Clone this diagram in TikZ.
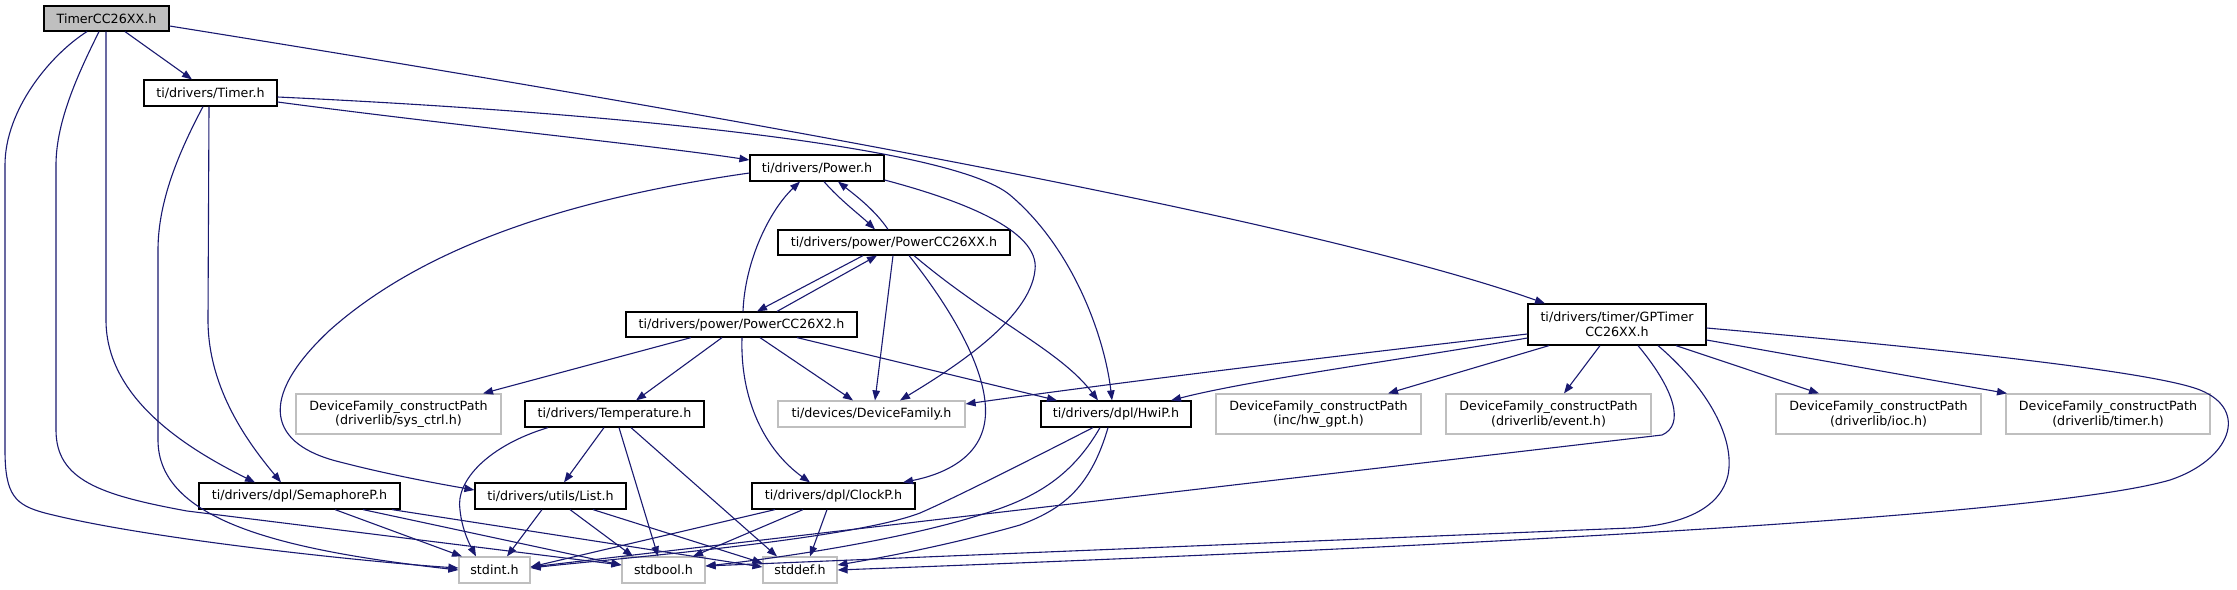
\documentclass[tikz,border=0pt]{standalone}
\usepackage{fontspec}
\setmainfont{DejaVu Sans}
\usetikzlibrary{arrows.meta}
\definecolor{edgecol}{HTML}{191970}
\definecolor{extgray}{HTML}{BFBFBF}
\begin{document}
\begin{tikzpicture}[x=1pt,y=-1pt,
  box/.style={draw=black, line width=1.2pt, fill=white, inner sep=0pt, align=center, font=\fontsize{12.7}{14.5}\selectfont},
  rootbox/.style={box, fill=extgray},
  extbox/.style={box, draw=extgray},
  edge/.style={draw=edgecol, line width=1.1pt, -{Triangle[length=10pt,width=7.5pt]}}]
\useasboundingbox (0,0) rectangle (2237,589);
% nodes
\node[rootbox, minimum width=125pt, minimum height=25pt] (root) at (106.5,18.5) {TimerCC26XX.h};
\node[box, minimum width=133pt, minimum height=26pt] (timer) at (210.5,93) {ti/drivers/Timer.h};
\node[box, minimum width=201pt, minimum height=26pt] (sema) at (299.5,496) {ti/drivers/dpl/SemaphoreP.h};
\node[extbox, minimum width=71pt, minimum height=26pt] (stdint) at (494.5,570) {stdint.h};
\node[extbox, minimum width=83pt, minimum height=26pt] (stdbool) at (663.5,570) {stdbool.h};
\node[extbox, minimum width=74pt, minimum height=26pt] (stddef) at (800,570) {stddef.h};
\node[box, minimum width=151pt, minimum height=26pt] (list) at (550.5,496) {ti/drivers/utils/List.h};
\node[box, minimum width=163pt, minimum height=26pt] (clockp) at (833.5,496) {ti/drivers/dpl/ClockP.h};
\node[extbox, minimum width=205pt, minimum height=40pt] (sysctrl) at (398.5,414) {DeviceFamily\_constructPath\\(driverlib/sys\_ctrl.h)};
\node[box, minimum width=179pt, minimum height=26pt] (temp) at (614.5,414) {ti/drivers/Temperature.h};
\node[box, minimum width=231pt, minimum height=25pt] (pcc26x2) at (741.5,324.5) {ti/drivers/power/PowerCC26X2.h};
\node[box, minimum width=134pt, minimum height=26pt] (power) at (817,168) {ti/drivers/Power.h};
\node[box, minimum width=232pt, minimum height=25pt] (pcc26xx) at (894,242.5) {ti/drivers/power/PowerCC26XX.h};
\node[extbox, minimum width=187pt, minimum height=26pt] (devfam) at (871.5,414) {ti/devices/DeviceFamily.h};
\node[box, minimum width=150pt, minimum height=26pt] (hwip) at (1116,414) {ti/drivers/dpl/HwiP.h};
\node[extbox, minimum width=205pt, minimum height=40pt] (hwgpt) at (1318.5,414) {DeviceFamily\_constructPath\\(inc/hw\_gpt.h)};
\node[extbox, minimum width=205pt, minimum height=40pt] (event) at (1548.5,414) {DeviceFamily\_constructPath\\(driverlib/event.h)};
\node[extbox, minimum width=205pt, minimum height=40pt] (ioc) at (1878.5,414) {DeviceFamily\_constructPath\\(driverlib/ioc.h)};
\node[extbox, minimum width=204pt, minimum height=40pt] (tmr) at (2108,414) {DeviceFamily\_constructPath\\(driverlib/timer.h)};
\node[box, minimum width=178pt, minimum height=41pt] (gpt) at (1617,324.5) {ti/drivers/timer/GPTimer\\CC26XX.h};
% edges
\draw[edge] (root.south -| 87,0) .. controls (50,55) and (5,110) .. (5,165) -- (5,450) .. controls (5,495) and (15,505) .. (45,513) .. controls (150,540) and (380,563) .. (stdint.west |- 0,568);
\draw[edge] (root.south -| 99,0) .. controls (80,70) and (56,120) .. (56,165) -- (56,430) .. controls (56,480) and (100,495) .. (187,511) -- (stdbool.west |- 0,565);
\draw[edge] (root.south -| 106,0) -- (106,320) .. controls (106,400) and (190,450) .. (sema.north -| 255,0);
\draw[edge] (root.south -| 125,0) -- (timer.north -| 192,0);
\draw[edge] (root.east |- 0,26) .. controls (600,95) and (1280,210) .. (gpt.north -| 1545,0);
\draw[edge] (timer.east |- 0,102) .. controls (450,125) and (650,145) .. (power.west |- 0,160);
\draw[edge] (timer.east |- 0,97) .. controls (600,112) and (950,145) .. (1010,195) .. controls (1075,250) and (1105,340) .. (hwip.north -| 1112,0);
\draw[edge] (timer.south -| 209,0) -- (208,320) .. controls (208,390) and (250,445) .. (sema.north -| 281,0);
\draw[edge] (timer.south -| 203,0) .. controls (180,150) and (158,200) .. (158,250) -- (158,440) .. controls (158,520) and (280,550) .. (stdint.west |- 0,570);
\draw[edge] (power.west |- 0,173) .. controls (560,200) and (420,250) .. (330,330) .. controls (255,400) and (270,445) .. (340,462) .. controls (390,475) and (440,484) .. (list.west |- 0,490);
\draw[edge] (power.east |- 0,180) .. controls (960,200) and (1040,230) .. (1035,270) .. controls (1030,320) and (950,370) .. (devfam.north -| 900,0);
\draw[edge] (power.south -| 824,0) .. controls (840,200) and (860,215) .. (pcc26xx.north -| 875,0);
\draw[edge] (pcc26xx.north -| 888,0) .. controls (875,210) and (855,195) .. (power.south -| 838,0);
\draw[edge] (pcc26xx.south -| 863,0) -- (pcc26x2.north -| 757,0);
\draw[edge] (pcc26x2.north -| 777,0) -- (pcc26xx.south -| 877,0);
\draw[edge] (pcc26xx.south -| 893,0) -- (devfam.north -| 875,0);
\draw[edge] (pcc26xx.south -| 909,0) .. controls (960,320) and (990,380) .. (985,420) .. controls (980,460) and (940,475) .. (clockp.north -| 903,0);
\draw[edge] (pcc26xx.south -| 914,0) .. controls (990,320) and (1060,350) .. (hwip.north -| 1098,0);
\draw[edge] (pcc26x2.north -| 743,0) .. controls (745,260) and (770,210) .. (power.south -| 800,0);
\draw[edge] (pcc26x2.south -| 742,0) .. controls (740,400) and (765,450) .. (clockp.north -| 810,0);
\draw[edge] (pcc26x2.south -| 760,0) -- (devfam.north -| 853,0);
\draw[edge] (pcc26x2.south -| 797,0) -- (hwip.north -| 1057,0);
\draw[edge] (pcc26x2.south -| 691,0) -- (sysctrl.north -| 483,0);
\draw[edge] (pcc26x2.south -| 722,0) -- (temp.north -| 636,0);
\draw[edge] (temp.south -| 604,0) -- (list.north -| 564,0);
\draw[edge] (temp.south -| 548,0) .. controls (490,445) and (455,480) .. (460,510) .. controls (462,530) and (470,545) .. (stdint.north -| 476,0);
\draw[edge] (temp.south -| 619,0) -- (stdbool.north -| 658,0);
\draw[edge] (temp.south -| 631,0) -- (stddef.north -| 777,0);
\draw[edge] (list.south -| 542,0) -- (stdint.north -| 507,0);
\draw[edge] (list.south -| 570,0) -- (stdbool.north -| 633,0);
\draw[edge] (list.south -| 593,0) -- (stddef.west |- 0,563);
\draw[edge] (sema.south -| 335,0) -- (stdint.north -| 462,0);
\draw[edge] (sema.south -| 363,0) -- (stdbool.west |- 0,565);
\draw[edge] (sema.south -| 392,0) -- (stddef.west |- 0,567);
\draw[edge] (clockp.south -| 775,0) -- (stdint.east |- 0,567);
\draw[edge] (clockp.south -| 803,0) -- (stdbool.north -| 693,0);
\draw[edge] (clockp.south -| 827,0) -- (stddef.north -| 810,0);
\draw[edge] (hwip.south -| 1093,0) .. controls (1010,470) and (950,500) .. (920,513) .. controls (850,540) and (600,560) .. (stdint.east |- 0,568);
\draw[edge] (hwip.south -| 1100,0) .. controls (1070,480) and (1030,500) .. (980,515) .. controls (900,540) and (780,558) .. (stdbool.east |- 0,566);
\draw[edge] (hwip.south -| 1108,0) .. controls (1090,490) and (1060,510) .. (1020,525) .. controls (950,545) and (880,558) .. (stddef.east |- 0,565);
\draw[edge] (gpt.west |- 0,334) .. controls (1300,360) and (1100,385) .. (devfam.east |- 0,404);
\draw[edge] (gpt.west |- 0,338) .. controls (1400,360) and (1250,380) .. (hwip.north -| 1171,0);
\draw[edge] (gpt.south -| 1549,0) -- (hwgpt.north -| 1388,0);
\draw[edge] (gpt.south -| 1600,0) -- (event.north -| 1564,0);
\draw[edge] (gpt.south -| 1676,0) -- (ioc.north -| 1819,0);
\draw[edge] (gpt.east |- 0,340) -- (tmr.north -| 2007,0);
\draw[edge] (gpt.south -| 1638,0) .. controls (1675,390) and (1685,425) .. (1662,435) -- (stdint.east |- 0,567);
\draw[edge] (gpt.south -| 1658,0) .. controls (1710,390) and (1735,440) .. (1728,475) .. controls (1720,510) and (1680,525) .. (1630,528) -- (stdbool.east |- 0,566);
\draw[edge] (gpt.east |- 0,328) .. controls (1900,345) and (2150,370) .. (2200,390) .. controls (2250,410) and (2230,460) .. (2170,480) .. controls (2050,515) and (1500,545) .. (stddef.east |- 0,570);
\end{tikzpicture}
\end{document}
